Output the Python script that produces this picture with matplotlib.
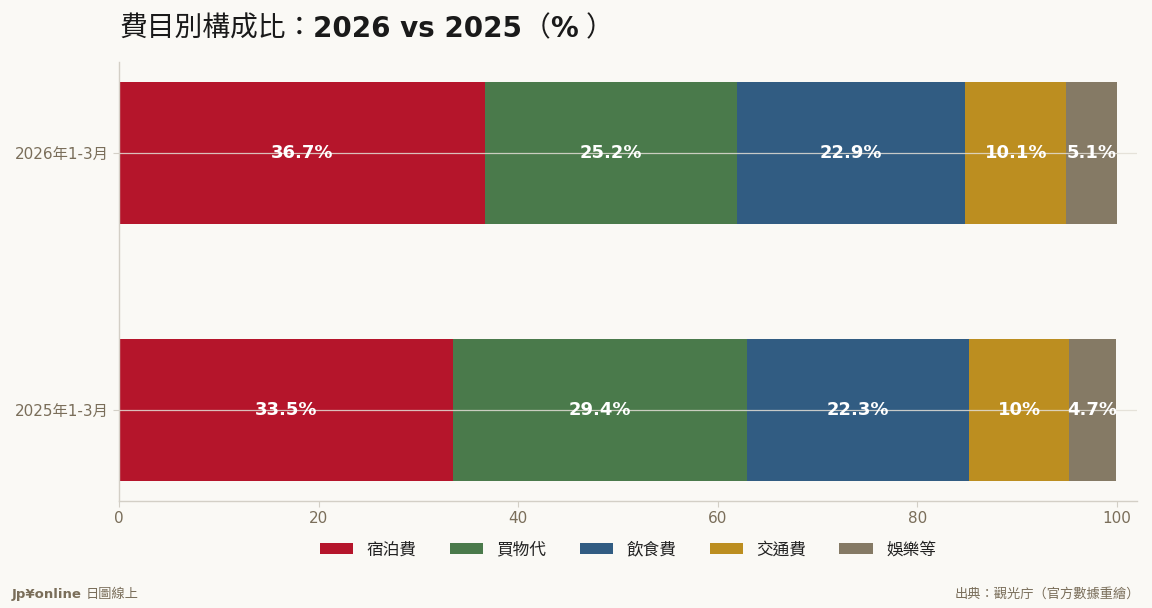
import numpy as np
import matplotlib
matplotlib.use("Agg")
from matplotlib import pyplot as plt

plt.rcParams['font.family'] = ['DejaVu Sans', 'Noto Sans CJK TC']

periods = ['2025年1-3月', '2026年1-3月']
categories = ['宿泊費', '買物代', '飲食費', '交通費', '娛樂等']
shares_2025 = [33.5, 29.4, 22.3, 10.0, 4.7]
shares_2026 = [36.7, 25.2, 22.9, 10.1, 5.1]
colors = ['#b5152b', '#4a7a4b', '#315c82', '#bc8e20', '#857a65']

bg = '#faf9f5'
muted = '#7a6e5a'
line_c = '#d3cfc6'

fig = plt.figure(figsize=(11.52, 6.08), dpi=100, facecolor=bg)
ax = fig.add_axes([0.1033, 0.176, 0.8837, 0.722], facecolor=bg)


def text_runs(x, y, runs, **kw):
    # pieces of text side by side, each with its own weight;
    # gap = extra pixels before the piece
    r = fig.canvas.get_renderer()
    for s, w, gap in runs:
        x += gap / fig.bbox.width
        t = fig.text(x, y, s, fontweight=w, ha='left', va='center', **kw)
        x += t.get_window_extent(renderer=r).width / fig.bbox.width


data = np.array([shares_2025, shares_2026])
y = np.arange(len(periods))
left = np.zeros(len(periods))
for i, cat in enumerate(categories):
    vals = data[:, i]
    bars = ax.barh(y, vals, left=left, height=0.55, color=colors[i],
                   label=cat, zorder=2)
    ax.bar_label(bars, labels=[f'{v:g}%' for v in vals], label_type='center',
                 color='white', fontsize=13, fontweight='bold', zorder=4)
    left += vals

ax.set_xlim(0, 102)
ax.set_xticks([0, 20, 40, 60, 80, 100])
ax.set_yticks(y)
ax.set_yticklabels(periods)
ax.tick_params(axis='both', colors=line_c, labelcolor=muted, labelsize=11, length=4)

ax.yaxis.grid(True, color='#e2ded5', lw=0.9, alpha=0.85, zorder=3)
ax.xaxis.grid(False)
ax.set_axisbelow(False)

for s in ['top', 'right']:
    ax.spines[s].set_visible(False)
for s in ['left', 'bottom']:
    ax.spines[s].set_color(line_c)
    ax.spines[s].set_linewidth(1)

text_runs(0.1033, 0.953, [('費目別構成比：', 'normal', 0), ('2026 vs 2025', 'bold', 0),
                          ('（', 'normal', 0), ('%', 'bold', 0), ('）', 'normal', 8)],
          fontsize=20, color='#1a1a1a')

ax.legend(loc='center', bbox_to_anchor=(0.5, -0.11), ncol=5, frameon=False,
          fontsize=12, handlelength=2.0, handleheight=0.7, handletextpad=0.8,
          columnspacing=2.0, labelcolor='#222222')

text_runs(0.0104, 0.022, [('Jp¥online', 'bold', 0), ('日圖線上', 'normal', 4)],
          fontsize=9.5, color=muted)
fig.text(0.99, 0.022, '出典：觀光庁（官方數據重繪）', fontsize=9.5,
         color=muted, ha='right', va='center')

fig.savefig('out.png', dpi=100, facecolor=bg)
